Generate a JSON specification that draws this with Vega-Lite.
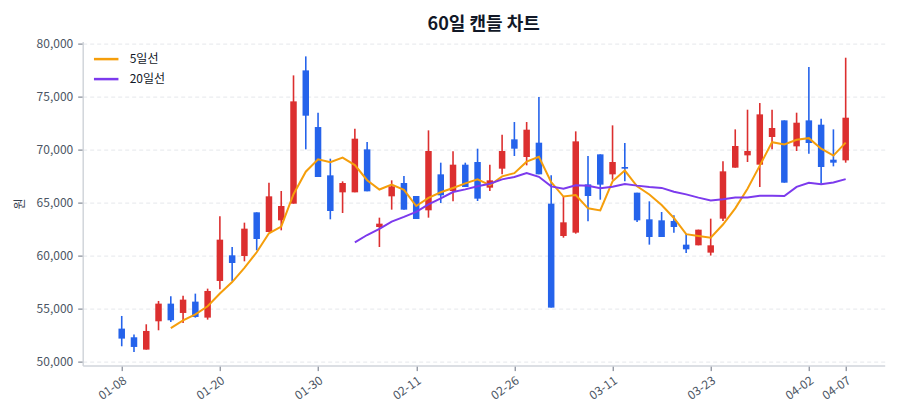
{
  "$schema": "https://vega.github.io/schema/vega-lite/v6.json",
  "width": 802,
  "height": 324,
  "autosize": {"type": "none"},
  "padding": {"left": 82.7, "top": 41.6, "right": 15.3, "bottom": 54.4},
  "background": "white",
  "title": {
    "text": "60일 캔들 차트",
    "font": "Noto Sans CJK KR",
    "fontSize": 18,
    "fontWeight": "bold",
    "color": "#111827",
    "anchor": "middle",
    "offset": 4
  },
  "config": {
    "font": "Noto Sans CJK KR",
    "view": {"stroke": null},
    "axis": {
      "labelFont": "Noto Sans CJK KR",
      "titleFont": "Noto Sans CJK KR",
      "labelFontSize": 12,
      "labelColor": "#4b5563",
      "titleColor": "#374151",
      "tickColor": "#6b7280",
      "domainColor": "#d1d5db",
      "domainWidth": 1.5
    }
  },
  "data": {
    "values": [
      {"date": "01-08", "open": 53110, "high": 54305, "low": 51443, "close": 52167, "ma5": null, "ma20": null},
      {"date": "01-09", "open": 52293, "high": 52544, "low": 50909, "close": 51380, "ma5": null, "ma20": null},
      {"date": "01-12", "open": 51129, "high": 53519, "low": 51129, "close": 52890, "ma5": null, "ma20": null},
      {"date": "01-13", "open": 53802, "high": 55721, "low": 52953, "close": 55469, "ma5": null, "ma20": null},
      {"date": "01-14", "open": 55469, "high": 56161, "low": 53739, "close": 53896, "ma5": 53160, "ma20": null},
      {"date": "01-15", "open": 54588, "high": 56224, "low": 53645, "close": 55846, "ma5": 53896, "ma20": null},
      {"date": "01-16", "open": 55658, "high": 56412, "low": 54148, "close": 54211, "ma5": 54462, "ma20": null},
      {"date": "01-19", "open": 54148, "high": 56884, "low": 53959, "close": 56664, "ma5": 55217, "ma20": null},
      {"date": "01-20", "open": 57608, "high": 63709, "low": 56821, "close": 61507, "ma5": 56425, "ma20": null},
      {"date": "01-21", "open": 60029, "high": 60815, "low": 57608, "close": 59306, "ma5": 57507, "ma20": null},
      {"date": "01-22", "open": 59966, "high": 63111, "low": 59463, "close": 62545, "ma5": 58847, "ma20": null},
      {"date": "01-23", "open": 64086, "high": 64086, "low": 60501, "close": 61570, "ma5": 60318, "ma20": null},
      {"date": "01-26", "open": 62231, "high": 66885, "low": 62231, "close": 65596, "ma5": 62105, "ma20": null},
      {"date": "01-27", "open": 63331, "high": 66099, "low": 62388, "close": 64684, "ma5": 62740, "ma20": null},
      {"date": "01-28", "open": 64904, "high": 77012, "low": 64904, "close": 74559, "ma5": 65791, "ma20": null},
      {"date": "01-29", "open": 77484, "high": 78805, "low": 70030, "close": 73207, "ma5": 67923, "ma20": null},
      {"date": "01-30", "open": 72137, "high": 73490, "low": 67420, "close": 67420, "ma5": 69093, "ma20": null},
      {"date": "02-02", "open": 67577, "high": 69150, "low": 63426, "close": 64212, "ma5": 68816, "ma20": null},
      {"date": "02-03", "open": 65973, "high": 67011, "low": 64023, "close": 66854, "ma5": 69250, "ma20": null},
      {"date": "02-04", "open": 65973, "high": 71980, "low": 65973, "close": 71037, "ma5": 68546, "ma20": 61251},
      {"date": "02-05", "open": 70030, "high": 70722, "low": 66068, "close": 66068, "ma5": 67118, "ma20": 61946},
      {"date": "02-06", "open": 62702, "high": 63583, "low": 60815, "close": 63017, "ma5": 66238, "ma20": 62528},
      {"date": "02-09", "open": 65596, "high": 67105, "low": 64338, "close": 66539, "ma5": 66703, "ma20": 63210},
      {"date": "02-10", "open": 66854, "high": 67514, "low": 64338, "close": 64338, "ma5": 66200, "ma20": 63654},
      {"date": "02-11", "open": 65628, "high": 65628, "low": 63457, "close": 63457, "ma5": 64684, "ma20": 64132},
      {"date": "02-12", "open": 64275, "high": 71823, "low": 63583, "close": 69873, "ma5": 65445, "ma20": 64833},
      {"date": "02-13", "open": 67672, "high": 68772, "low": 64967, "close": 65690, "ma5": 65979, "ma20": 65407},
      {"date": "02-19", "open": 66099, "high": 69842, "low": 65124, "close": 68584, "ma5": 66388, "ma20": 66003},
      {"date": "02-20", "open": 68584, "high": 68772, "low": 66476, "close": 66476, "ma5": 66816, "ma20": 66252},
      {"date": "02-23", "open": 68835, "high": 70093, "low": 65156, "close": 65376, "ma5": 67200, "ma20": 66555},
      {"date": "02-24", "open": 66414, "high": 68584, "low": 66099, "close": 67105, "ma5": 66646, "ma20": 66783},
      {"date": "02-25", "open": 68206, "high": 71414, "low": 67672, "close": 69873, "ma5": 67483, "ma20": 67198},
      {"date": "02-26", "open": 70974, "high": 72609, "low": 69401, "close": 70093, "ma5": 67785, "ma20": 67423},
      {"date": "02-27", "open": 69307, "high": 72609, "low": 68521, "close": 71886, "ma5": 68867, "ma20": 67783},
      {"date": "03-03", "open": 70659, "high": 74968, "low": 67672, "close": 67672, "ma5": 69326, "ma20": 67439},
      {"date": "03-04", "open": 64904, "high": 67577, "low": 55092, "close": 55092, "ma5": 66923, "ma20": 66533},
      {"date": "03-05", "open": 61853, "high": 65628, "low": 61696, "close": 63143, "ma5": 65577, "ma20": 66319},
      {"date": "03-06", "open": 62168, "high": 71729, "low": 62073, "close": 70785, "ma5": 65716, "ma20": 66648},
      {"date": "03-09", "open": 66728, "high": 69401, "low": 63237, "close": 65628, "ma5": 64464, "ma20": 66587},
      {"date": "03-10", "open": 69559, "high": 69559, "low": 65281, "close": 66697, "ma5": 64269, "ma20": 66370},
      {"date": "03-11", "open": 67672, "high": 72295, "low": 67168, "close": 68835, "ma5": 67018, "ma20": 66508},
      {"date": "03-12", "open": 68363, "high": 70628, "low": 67011, "close": 68206, "ma5": 68030, "ma20": 66767},
      {"date": "03-13", "open": 65942, "high": 65942, "low": 63174, "close": 63331, "ma5": 66539, "ma20": 66607},
      {"date": "03-16", "open": 63426, "high": 65124, "low": 61036, "close": 61759, "ma5": 65766, "ma20": 66478},
      {"date": "03-17", "open": 63331, "high": 64118, "low": 61759, "close": 61759, "ma5": 64778, "ma20": 66393},
      {"date": "03-18", "open": 63269, "high": 63803, "low": 62168, "close": 62702, "ma5": 63551, "ma20": 66035},
      {"date": "03-19", "open": 61036, "high": 62073, "low": 60249, "close": 60595, "ma5": 62029, "ma20": 65780},
      {"date": "03-20", "open": 60973, "high": 62451, "low": 60973, "close": 62451, "ma5": 61853, "ma20": 65473},
      {"date": "03-23", "open": 60281, "high": 63489, "low": 60006, "close": 60973, "ma5": 61696, "ma20": 65198},
      {"date": "03-24", "open": 63489, "high": 68898, "low": 63269, "close": 67955, "ma5": 62935, "ma20": 65327},
      {"date": "03-25", "open": 68301, "high": 71917, "low": 68301, "close": 70345, "ma5": 64464, "ma20": 65489},
      {"date": "03-26", "open": 69464, "high": 73773, "low": 68835, "close": 69873, "ma5": 66319, "ma20": 65489},
      {"date": "03-27", "open": 68584, "high": 74402, "low": 66476, "close": 73333, "ma5": 68496, "ma20": 65651},
      {"date": "03-30", "open": 71194, "high": 73773, "low": 70030, "close": 72043, "ma5": 70710, "ma20": 65659},
      {"date": "03-31", "open": 72766, "high": 72766, "low": 66885, "close": 66885, "ma5": 70496, "ma20": 65620},
      {"date": "04-01", "open": 70313, "high": 73490, "low": 69873, "close": 72546, "ma5": 70936, "ma20": 66492},
      {"date": "04-02", "open": 72766, "high": 77798, "low": 69621, "close": 70628, "ma5": 71087, "ma20": 66866},
      {"date": "04-03", "open": 72358, "high": 72924, "low": 66791, "close": 68363, "ma5": 70093, "ma20": 66745},
      {"date": "04-06", "open": 69055, "high": 71917, "low": 68426, "close": 68772, "ma5": 69439, "ma20": 66903},
      {"date": "04-07", "open": 68992, "high": 78679, "low": 68772, "close": 73018, "ma5": 70665, "ma20": 67219}
    ]
  },
  "encoding": {
    "x": {
      "field": "date",
      "type": "ordinal",
      "sort": null,
      "scale": {
        "type": "point",
        "padding": 0.18,
        "domain": ["pad-a", "pad-b", "pad-c",
          "01-08", "01-09", "01-12", "01-13", "01-14", "01-15", "01-16", "01-19", "01-20", "01-21",
          "01-22", "01-23", "01-26", "01-27", "01-28", "01-29", "01-30", "02-02", "02-03", "02-04",
          "02-05", "02-06", "02-09", "02-10", "02-11", "02-12", "02-13", "02-19", "02-20", "02-23",
          "02-24", "02-25", "02-26", "02-27", "03-03", "03-04", "03-05", "03-06", "03-09", "03-10",
          "03-11", "03-12", "03-13", "03-16", "03-17", "03-18", "03-19", "03-20", "03-23", "03-24",
          "03-25", "03-26", "03-27", "03-30", "03-31", "04-01", "04-02", "04-03", "04-06", "04-07",
          "pad-d", "pad-e", "pad-f"]
      },
      "axis": {
        "title": null,
        "values": ["01-08", "01-20", "01-30", "02-11", "02-26", "03-11", "03-23", "04-02", "04-07"],
        "labelAngle": -35,
        "labelAlign": "right",
        "labelBaseline": "top",
        "tickSize": 5,
        "labelPadding": 4,
        "grid": false
      }
    }
  },
  "layer": [
    {
      "mark": {"type": "rule", "strokeWidth": 1.6},
      "encoding": {
        "y": {
          "field": "low",
          "type": "quantitative",
          "scale": {"domain": [49620, 80200], "nice": false, "zero": false},
          "axis": {
            "title": "원",
            "titleAngle": -90,
            "titleFontSize": 12,
            "titleFontWeight": "normal",
            "titlePadding": 10,
            "format": ",d",
            "values": [50000, 55000, 60000, 65000, 70000, 75000, 80000],
            "tickSize": 5,
            "labelPadding": 5,
            "grid": true,
            "gridColor": "#e5e7eb",
            "gridDash": [4, 3],
            "gridWidth": 1
          }
        },
        "y2": {"field": "high"},
        "color": {
          "condition": {"test": "datum.close >= datum.open", "value": "#dc2f2f"},
          "value": "#2563eb"
        }
      }
    },
    {
      "mark": {"type": "bar", "width": 6.5},
      "encoding": {
        "y": {"field": "open", "type": "quantitative"},
        "y2": {"field": "close"},
        "color": {
          "condition": {"test": "datum.close >= datum.open", "value": "#dc2f2f"},
          "value": "#2563eb"
        }
      }
    },
    {
      "mark": {"type": "line", "strokeWidth": 2, "interpolate": "linear"},
      "encoding": {
        "y": {"field": "ma5", "type": "quantitative"},
        "color": {
          "datum": "5일선",
          "type": "nominal",
          "scale": {"domain": ["5일선", "20일선"], "range": ["#f59e0b", "#7c3aed"]},
          "legend": {
            "title": null,
            "orient": "none",
            "legendX": 10,
            "legendY": 4,
            "symbolType": "stroke",
            "symbolSize": 600,
            "symbolStrokeWidth": 2.5,
            "labelFont": "Noto Sans CJK KR",
            "labelFontSize": 12,
            "labelColor": "#111827",
            "labelOffset": 10,
            "rowPadding": 0
          }
        }
      }
    },
    {
      "mark": {"type": "line", "strokeWidth": 2, "interpolate": "linear"},
      "encoding": {
        "y": {"field": "ma20", "type": "quantitative"},
        "color": {"datum": "20일선", "type": "nominal"}
      }
    }
  ]
}
